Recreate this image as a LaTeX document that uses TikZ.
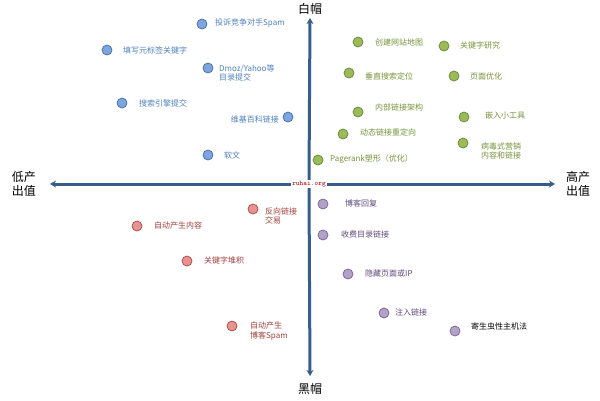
\documentclass[tikz,border=0pt]{standalone}
\usepackage{fontspec}
\setmainfont{Noto Sans CJK SC}
\newfontfamily\serifcjk{Noto Sans CJK SC}
\usetikzlibrary{arrows.meta}
\definecolor{axc}{HTML}{385D8A}
\definecolor{bf}{HTML}{7EA6DC}\definecolor{bd}{HTML}{4A72B0}\definecolor{bt}{HTML}{4F81BD}
\definecolor{gf}{HTML}{9BBB59}\definecolor{gd}{HTML}{71893F}\definecolor{gt}{HTML}{76923C}
\definecolor{rf}{HTML}{E6948F}\definecolor{rd}{HTML}{B0504C}\definecolor{rt}{HTML}{A0403C}
\definecolor{pf}{HTML}{B3A2C7}\definecolor{pd}{HTML}{7E6A9A}\definecolor{pt}{HTML}{5F497A}
\tikzset{
 axis/.style={axc,line width=3pt,-{Stealth[length=6pt,width=7pt]}},
 dot/.style={circle,draw,line width=0.8pt,minimum size=10pt,inner sep=0pt},
 bdot/.style={dot,fill=bf,draw=bd}, gdot/.style={dot,fill=gf,draw=gd},
 rdot/.style={dot,fill=rf,draw=rd}, pdot/.style={dot,fill=pf,draw=pd},
 lab/.style={anchor=west,font=\fontsize{8}{9.5}\selectfont,align=left,inner sep=0pt},
 bl/.style={lab,text=bt}, gl/.style={lab,text=gt}, rl/.style={lab,text=rt}, pl/.style={lab,text=pt},
 big/.style={font=\fontsize{12}{14}\selectfont,align=center,inner sep=0pt}
}
\begin{document}
\begin{tikzpicture}[x=1pt,y=-1pt]
\useasboundingbox (0,0) rectangle (600,400);
\node[big] (wh) at (310,9) {白帽};
\node[big] (bh) at (310,389) {黑帽};
\node[big] (lo) at (24,184) {低产\\出值};
\node[big] (hi) at (578,184) {高产\\出值};
\node[text=red!70!black,font=\fontsize{7}{8}\selectfont\ttfamily,inner sep=1pt] (ctr) at (309,184) {ruhai.org};
\coordinate (top) at (310,18);
\coordinate (bot) at (310,376);
\coordinate (lft) at (50,184);
\coordinate (rgt) at (555,184);
\draw[axis] (ctr.north) -- (top);
\draw[axis] (ctr.south) -- (bot);
\draw[axis] (ctr.west) -- (lft);
\draw[axis] (ctr.east) -- (rgt);
% blue
\node[bdot] (b1) at (202,24) {}; \node[bl] at (215,23) {投诉竞争对手Spam};
\node[bdot] (b2) at (107,50) {}; \node[bl] at (123,50) {填写元标签关键字};
\node[bdot] (b3) at (208,68) {}; \node[bl] at (219,73) {Dmoz/Yahoo等\\目录提交};
\node[bdot] (b4) at (122,103) {}; \node[bl] at (139,103) {搜索引擎提交};
\node[bdot] (b5) at (288,117) {}; \node[bl,anchor=east] at (279,119) {维基百科链接};
\node[bdot] (b6) at (208,155) {}; \node[bl] at (224,155) {软文};
% green
\node[gdot] (g1) at (358,42) {}; \node[gl] at (375,42) {创建网站地图};
\node[gdot] (g2) at (444,46) {}; \node[gl] at (460,45) {关键字研究};
\node[gdot] (g3) at (349,73) {}; \node[gl] at (365,76) {垂直搜索定位};
\node[gdot] (g4) at (454,76) {}; \node[gl] at (470,76) {页面优化};
\node[gdot] (g5) at (358,112) {}; \node[gl] at (375,107) {内部链接架构};
\node[gdot] (g6) at (464,117) {}; \node[gl] at (485,115) {嵌入小工具};
\node[gdot] (g7) at (343,134) {}; \node[gl] at (360,132) {动态链接重定向};
\node[gdot] (g8) at (463,143) {}; \node[gl] at (481,151) {病毒式营销\\内容和链接};
\node[gdot] (g9) at (318,160) {}; \node[gl] at (330,159) {Pagerank塑形（优化）};
% red
\node[rdot] (r1) at (253,209) {}; \node[rl] at (265,216) {反向链接\\交易};
\node[rdot] (r2) at (137,226) {}; \node[rl] at (154,225) {自动产生内容};
\node[rdot] (r3) at (187,261) {}; \node[rl] at (204,260) {关键字堆积};
\node[rdot] (r4) at (232,326) {}; \node[rl] at (250,331) {自动产生\\博客Spam};
% purple
\node[pdot] (p1) at (323,204) {}; \node[pl] at (345,203) {博客回复};
\node[pdot] (p2) at (323,235) {}; \node[pl] at (341,234) {收费目录链接};
\node[pdot] (p3) at (348,274) {}; \node[pl] at (365,273) {隐藏页面或IP};
\node[pdot] (p4) at (384,313) {}; \node[pl] at (395,312) {注入链接};
\node[pdot] (p5) at (455,331) {}; \node[lab,text=black] at (471,326) {寄生虫性主机法};
\end{tikzpicture}
\end{document}
